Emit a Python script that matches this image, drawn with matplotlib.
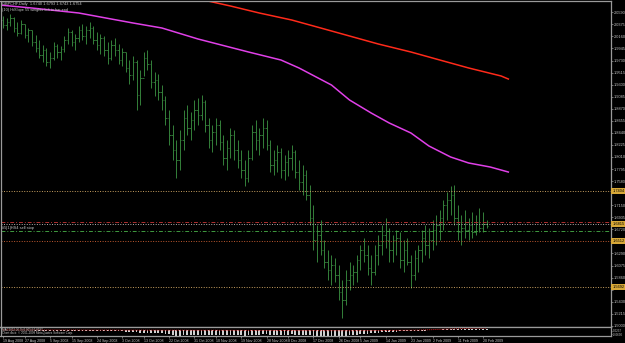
import matplotlib
matplotlib.use("Agg")
import matplotlib.pyplot as plt
import matplotlib.transforms as mtransforms
import pandas as pd

# GBPCHF daily bars, 19 Aug 2008 .. 23 Feb 2009 (one per weekday)
bar_dates = pd.bdate_range("2008-08-19", "2009-02-23")

opens = [
    2.045, 2.036, 2.042, 2.049, 2.031, 2.022, 2.038, 2.019, 2.028, 2.006,
    1.995, 1.983, 1.992, 1.971, 1.978, 1.999, 1.988, 1.994, 2.010, 2.024,
    2.006, 2.013, 2.028, 2.017, 2.028, 2.031, 2.010, 2.001, 2.013, 1.992,
    1.978, 2.001, 1.992, 1.974, 1.988, 1.960, 1.947, 1.971, 1.912, 1.942,
    1.978, 1.967, 1.935, 1.938, 1.917, 1.903, 1.871, 1.840, 1.813, 1.796,
    1.831, 1.871, 1.853, 1.867, 1.885, 1.876, 1.899, 1.858, 1.831, 1.846,
    1.858, 1.828, 1.799, 1.817, 1.840, 1.813, 1.796, 1.778, 1.764, 1.799,
    1.846, 1.831, 1.840, 1.853, 1.822, 1.787, 1.796, 1.810, 1.778, 1.792,
    1.799, 1.810, 1.774, 1.756, 1.769, 1.733, 1.692, 1.653, 1.662, 1.635,
    1.614, 1.599, 1.608, 1.590, 1.561, 1.546, 1.582, 1.590, 1.596, 1.617,
    1.635, 1.626, 1.603, 1.596, 1.626, 1.644, 1.662, 1.653, 1.635, 1.653,
    1.657, 1.617, 1.635, 1.614, 1.590, 1.621, 1.635, 1.657, 1.644, 1.653,
    1.671, 1.680, 1.692, 1.715, 1.724, 1.733, 1.692, 1.668, 1.675, 1.671,
    1.680, 1.668, 1.685, 1.675, 1.682,
]
highs = [
    2.052, 2.049, 2.056, 2.051, 2.042, 2.045, 2.038, 2.031, 2.028, 2.019,
    2.010, 2.001, 1.995, 1.988, 2.006, 2.003, 1.999, 2.017, 2.031, 2.028,
    2.020, 2.035, 2.038, 2.035, 2.042, 2.035, 2.024, 2.020, 2.017, 2.006,
    2.010, 2.013, 2.003, 1.995, 1.988, 1.974, 1.981, 1.974, 1.956, 1.988,
    1.992, 1.974, 1.953, 1.949, 1.929, 1.910, 1.885, 1.858, 1.831, 1.849,
    1.885, 1.894, 1.881, 1.903, 1.906, 1.912, 1.903, 1.871, 1.858, 1.871,
    1.867, 1.840, 1.831, 1.853, 1.849, 1.831, 1.813, 1.796, 1.813, 1.858,
    1.867, 1.853, 1.871, 1.867, 1.831, 1.813, 1.822, 1.817, 1.805, 1.813,
    1.822, 1.813, 1.796, 1.787, 1.778, 1.751, 1.715, 1.680, 1.689, 1.653,
    1.635, 1.626, 1.621, 1.608, 1.582, 1.599, 1.614, 1.608, 1.626, 1.644,
    1.657, 1.644, 1.626, 1.644, 1.662, 1.680, 1.692, 1.675, 1.662, 1.671,
    1.668, 1.653, 1.657, 1.626, 1.635, 1.644, 1.671, 1.680, 1.675, 1.689,
    1.698, 1.706, 1.724, 1.739, 1.749, 1.751, 1.715, 1.698, 1.706, 1.692,
    1.703, 1.698, 1.710, 1.703, 1.689,
]
lows = [
    2.031, 2.028, 2.035, 2.024, 2.017, 2.020, 2.013, 2.006, 1.999, 1.988,
    1.978, 1.971, 1.963, 1.960, 1.974, 1.978, 1.974, 1.988, 2.003, 1.999,
    1.992, 2.006, 2.010, 2.003, 2.013, 2.003, 1.992, 1.985, 1.981, 1.967,
    1.974, 1.981, 1.967, 1.963, 1.953, 1.931, 1.938, 1.885, 1.894, 1.946,
    1.956, 1.924, 1.910, 1.903, 1.885, 1.858, 1.822, 1.796, 1.764, 1.778,
    1.813, 1.840, 1.831, 1.849, 1.858, 1.867, 1.846, 1.817, 1.810, 1.822,
    1.813, 1.787, 1.778, 1.799, 1.796, 1.782, 1.764, 1.749, 1.756, 1.796,
    1.813, 1.805, 1.817, 1.813, 1.774, 1.769, 1.774, 1.764, 1.760, 1.767,
    1.778, 1.764, 1.742, 1.733, 1.724, 1.680, 1.635, 1.614, 1.626, 1.603,
    1.582, 1.573, 1.578, 1.546, 1.514, 1.537, 1.564, 1.573, 1.578, 1.599,
    1.614, 1.590, 1.573, 1.590, 1.608, 1.626, 1.639, 1.614, 1.614, 1.626,
    1.603, 1.596, 1.608, 1.568, 1.582, 1.596, 1.614, 1.626, 1.621, 1.635,
    1.644, 1.653, 1.671, 1.689, 1.698, 1.680, 1.653, 1.644, 1.657, 1.653,
    1.657, 1.662, 1.668, 1.668, 1.675,
]
closes = [
    2.036, 2.042, 2.049, 2.031, 2.022, 2.038, 2.019, 2.028, 2.006, 1.995,
    1.983, 1.992, 1.971, 1.978, 1.999, 1.988, 1.994, 2.010, 2.024, 2.006,
    2.013, 2.028, 2.017, 2.028, 2.031, 2.010, 2.001, 2.013, 1.992, 1.978,
    2.001, 1.992, 1.974, 1.988, 1.960, 1.947, 1.971, 1.912, 1.942, 1.978,
    1.967, 1.935, 1.938, 1.917, 1.903, 1.871, 1.840, 1.813, 1.796, 1.831,
    1.871, 1.853, 1.867, 1.885, 1.876, 1.899, 1.858, 1.831, 1.846, 1.858,
    1.828, 1.799, 1.817, 1.840, 1.813, 1.796, 1.778, 1.764, 1.799, 1.846,
    1.831, 1.840, 1.853, 1.822, 1.787, 1.796, 1.810, 1.778, 1.792, 1.799,
    1.810, 1.774, 1.756, 1.769, 1.733, 1.692, 1.653, 1.662, 1.635, 1.614,
    1.599, 1.608, 1.590, 1.561, 1.546, 1.582, 1.590, 1.596, 1.617, 1.635,
    1.626, 1.603, 1.596, 1.626, 1.644, 1.662, 1.653, 1.635, 1.653, 1.657,
    1.617, 1.635, 1.614, 1.590, 1.621, 1.635, 1.657, 1.644, 1.653, 1.671,
    1.680, 1.692, 1.715, 1.724, 1.733, 1.692, 1.668, 1.675, 1.671, 1.680,
    1.668, 1.685, 1.675, 1.682, 1.678,
]

# moving averages (shifted forward past the last bar), read at a few bars
ma_pink_bar = [-1, 8, 21, 30, 36, 44, 54, 68, 77, 82, 91, 96, 102, 107, 113, 118, 124, 129, 135, 140]
ma_pink = [2.0720, 2.0666, 2.0577, 2.0470, 2.0399, 2.0310, 2.0114, 1.9882, 1.9739, 1.9597,
           1.9293, 1.9026, 1.8794, 1.8616, 1.8438, 1.8206, 1.8010, 1.7903, 1.7831, 1.7742]
ma_red_bar = [53, 63, 71, 80, 88, 96, 104, 113, 121, 129, 138, 140]
ma_red = [2.0845, 2.0702, 2.0577, 2.0452, 2.0310, 2.0167, 2.0024, 1.9882, 1.9739, 1.9597, 1.9454, 1.9400]

# horizontal order / level lines
level_prices = [1.7404, 1.6851, 1.6815, 1.6690, 1.6512, 1.5692]
level_colors = ["#c8a060", "#b03030", "#b0b0b0", "#3f9a3f", "#c05a30", "#c8a060"]
level_styles = ["dot", "dashdot", "dot", "dashdot", "dot", "dot"]
level_tags = [True, False, True, False, True, True]

# MACD main (histogram) and signal
macd_main = [
    -0.003, -0.004, -0.004, -0.005, -0.006, -0.006, -0.007, -0.008, -0.009, -0.010,
    -0.012, -0.013, -0.015, -0.016, -0.016, -0.016, -0.016, -0.015, -0.013, -0.012,
    -0.012, -0.011, -0.011, -0.010, -0.010, -0.011, -0.012, -0.012, -0.013, -0.015,
    -0.015, -0.016, -0.017, -0.018, -0.020, -0.023, -0.024, -0.029, -0.031, -0.030,
    -0.030, -0.032, -0.034, -0.036, -0.039, -0.043, -0.049, -0.055, -0.060, -0.061,
    -0.059, -0.058, -0.056, -0.054, -0.052, -0.050, -0.050, -0.051, -0.052, -0.052,
    -0.053, -0.055, -0.055, -0.054, -0.055, -0.056, -0.058, -0.060, -0.059, -0.055,
    -0.053, -0.051, -0.049, -0.049, -0.050, -0.050, -0.050, -0.051, -0.051, -0.050,
    -0.049, -0.050, -0.052, -0.053, -0.055, -0.058, -0.061, -0.062, -0.063, -0.063,
    -0.063, -0.062, -0.062, -0.063, -0.063, -0.061, -0.058, -0.055, -0.051, -0.047,
    -0.044, -0.041, -0.039, -0.036, -0.033, -0.029, -0.026, -0.024, -0.022, -0.020,
    -0.019, -0.018, -0.018, -0.018, -0.017, -0.015, -0.013, -0.011, -0.009, -0.007,
    -0.005, -0.002, 0.002, 0.005, 0.008, 0.009, 0.009, 0.009, 0.009, 0.009,
    0.009, 0.009, 0.009, 0.009, 0.008,
]
signal_bar = [0, 30, 60, 95, 105, 115, 123, 130, 134]
signal = [-0.004, -0.006, -0.008, -0.012, -0.010, -0.006, 0.004, 0.012, 0.014]

date_labels = ["19 Aug 2008", "27 Aug 2008", "5 Sep 2008", "15 Sep 2008", "24 Sep 2008",
               "3 Oct 2008", "13 Oct 2008", "22 Oct 2008", "31 Oct 2008", "10 Nov 2008",
               "19 Nov 2008", "28 Nov 2008", "8 Dec 2008", "17 Dec 2008", "26 Dec 2008",
               "5 Jan 2009", "14 Jan 2009", "23 Jan 2009", "2 Feb 2009", "11 Feb 2009",
               "20 Feb 2009"]

W, H = 625, 343
FG = "#c8c8c8"
FRAME = "#9a9a9a"
BAR = "#34803a"
FONT = ["Liberation Sans", "DejaVu Sans"]


def px_box(x0, y0, x1, y1):
    return [x0 / W, 1 - y1 / H, (x1 - x0) / W, (y1 - y0) / H]


plt.rcParams["font.family"] = FONT
fig = plt.figure(figsize=(W / 100, H / 100), dpi=100, facecolor="black")
ax = fig.add_axes(px_box(0.5, 0.5, 610.5, 327))
sub = fig.add_axes(px_box(0.5, 327, 610.5, 336), sharex=ax)

for a in (ax, sub):
    a.set_facecolor("black")
    for s in a.spines.values():
        s.set_color(FRAME)
        s.set_linewidth(0.9)

idx = list(range(len(bar_dates)))
ax.vlines(idx, lows, highs, color=BAR, lw=0.7)
ax.hlines(opens, [i - 0.4 for i in idx], idx, color=BAR, lw=0.6)
ax.hlines(closes, idx, [i + 0.4 for i in idx], color=BAR, lw=0.6)

ax.plot(ma_pink_bar, ma_pink, color="#e040e8", lw=1.1)
ax.plot(ma_red_bar, ma_red, color="#ff2a1a", lw=1.1)

styles = {"dot": (0, (1, 1.6)), "dashdot": (0, (4, 2, 1, 2))}
lbl_tr = mtransforms.blended_transform_factory(ax.transAxes, ax.transData)
tag_prices = []
for price, col, st, tag in zip(level_prices, level_colors, level_styles, level_tags):
    ax.axhline(price, color=col, ls=styles[st], lw=0.7)
    if tag:
        tag_prices.append(price)
        ax.text(1.003, price, f"{price:.4f}", transform=lbl_tr, ha="left", va="center",
                fontsize=2.8, color="black", clip_on=False,
                bbox=dict(boxstyle="square,pad=0.25", fc="#d8a838", ec="none"))

ax.set_xlim(-0.7, 168.3)
ax.set_ylim(1.4979, 2.0800)
# price scale; labels hidden under a level tag are left out, as in the terminal
yticks = [2.0590 - 0.0215 * k for k in range(27)]
ax.yaxis.tick_right()
ax.set_yticks(yticks)
ax.set_yticklabels(["" if any(abs(v - t) < 0.008 for t in tag_prices) else f"{v:.4f}"
                    for v in yticks])
ax.tick_params(axis="y", colors=FRAME, labelcolor=FG, labelsize=2.8, length=1.5, width=0.5, pad=1)
ax.tick_params(axis="x", bottom=False, labelbottom=False)

fig.text(2 / W, 1 - 4 / H, "GBPCHF,Daily  1.6740 1.6793 1.6743 1.6754", fontsize=2.8,
         color=FG, va="center")
fig.text(2 / W, 1 - 9.5 / H, "(10) HiSlope 55 weights left to bar end", fontsize=2.8,
         color=FG, va="center")
ax.text(0.003, 1.6745, "#5|1|HS4 sell stop", transform=lbl_tr, fontsize=2.8, color=FG,
        va="center")

# MACD window
sub.bar(idx, macd_main, width=0.5, color="#d0d0d0")
sub.plot(signal_bar, signal, color="#d02020", lw=0.7, ls=(0, (1, 1)))
sub.set_ylim(-0.065, 0.025)
sub.yaxis.tick_right()
sub.set_yticks([-0.010, -0.045])
sub.set_yticklabels(["0.0237", "-0.0630"])
sub.tick_params(axis="y", colors=FRAME, labelcolor=FG, labelsize=2.2, length=1, width=0.5, pad=1)
fig.text(2 / W, 1 - 330.5 / H, "MACD(12,26,9) 0.0054 0.0027", fontsize=2.2, color=FG, va="center")
fig.text(2 / W, 1 - 333.3 / H, "Chart data: \u00a9 2001-2008 MetaQuotes Software Corp.",
         fontsize=2.2, color=FG, va="center")

tick_pos = [bar_dates.get_loc(pd.Timestamp(d)) for d in date_labels]
sub.set_xticks(tick_pos)
sub.set_xticklabels(date_labels, ha="left")
sub.tick_params(axis="x", colors=FRAME, labelcolor=FG, labelsize=2.6, length=1.5, width=0.5, pad=1)

fig.savefig("out.png", dpi=100, facecolor="black")
